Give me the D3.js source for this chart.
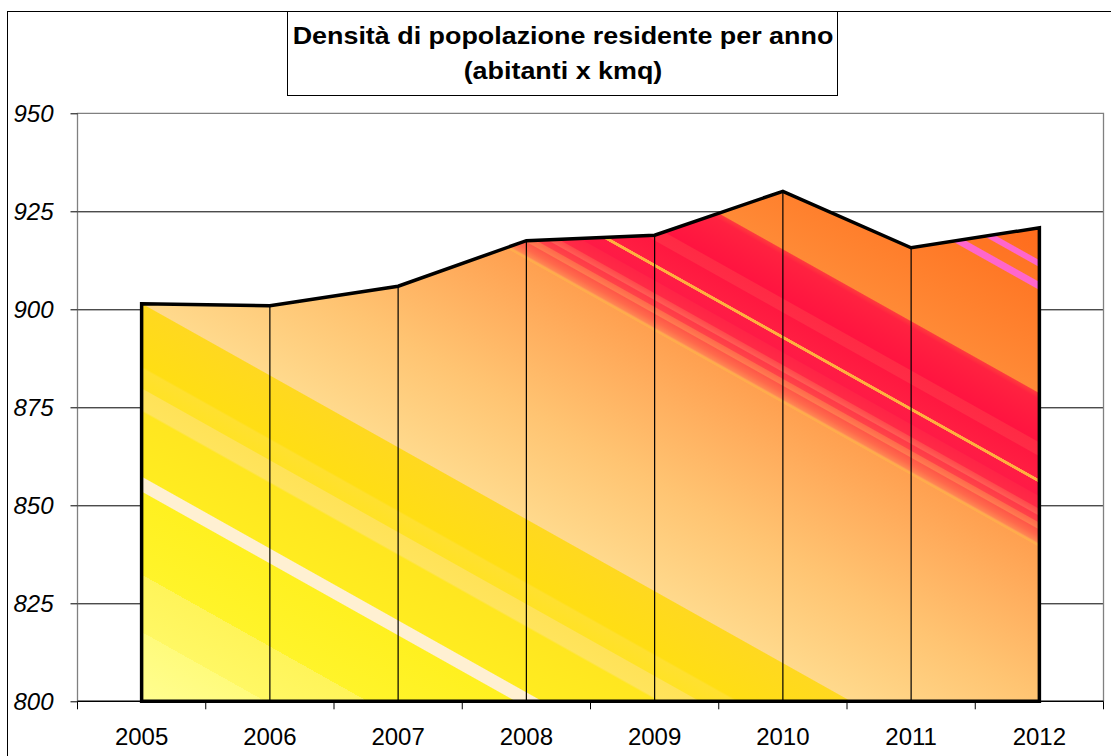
<!DOCTYPE html>
<html>
<head>
<meta charset="UTF-8">
<script src="https://cdn.jsdelivr.net/npm/d3@7/dist/d3.min.js"></script>
<style>
body { margin:0; background:#fff; }
text { font-family: Arial, "Liberation Sans", sans-serif; }
</style>
</head>
<body>
<script>

var years = ["2005","2006","2007","2008","2009","2010","2011","2012"];
var density = [901.4, 900.9, 905.9, 917.5, 918.9, 930.1, 915.7, 920.8];
var yTicks = [800, 825, 850, 875, 900, 925, 950];
var titleLines = ["Densità di popolazione residente per anno", "(abitanti x kmq)"];

var W = 1111, H = 756;
var plotL = 77.5, plotR = 1103.5, plotT = 113.3, plotB = 701.3;

var svg = d3.select("body").append("svg")
    .attr("width", W)
    .attr("height", H);

var x = d3.scaleBand().domain(years).range([plotL, plotR]).padding(0);
var y = d3.scaleLinear().domain([800, 950]).range([plotB, plotT]);
var cx = function(d) { return x(d) + x.bandwidth() / 2; };

// outer chart border
svg.append("rect")
    .attr("x", 7.5).attr("y", 11.5)
    .attr("width", W).attr("height", H)
    .attr("fill", "none").attr("stroke", "#000").attr("stroke-width", 1);

// gradient - diagonal bands, measured along normal n
var n = [0.489, -0.872];
var s0 = -560, s1 = 340;
var stops = [
  [-560, "#ffff96"], [-482, "#fffb7c"], [-482, "#fff864"], [-432, "#fff45a"],
  [-432, "#fff42a"], [-360, "#fff020"], [-359, "#fff0d2"], [-347, "#fff0d2"],
  [-346, "#ffec20"], [-290, "#ffe620"], [-288, "#ffe45c"], [-270, "#ffe258"],
  [-269, "#ffe226"], [-252, "#ffe030"], [-250, "#ffde14"], [-196, "#ffd820"],
  [-195, "#ffd98c"], [-100, "#ffc472"], [-20, "#ffae5e"], [31, "#ffa050"],
  [31.5, "#ffac4c"], [33, "#ffac4c"], [33.5, "#ffa454"], [35, "#ff8452"],
  [40, "#ff6a4c"], [46, "#ff5848"], [47, "#ff7a50"], [52, "#ff6a4c"],
  [53, "#ff4248"], [58, "#ff3a48"], [59, "#ff5c54"], [64, "#ff4a4c"],
  [65, "#ff2a46"], [75, "#ff2446"], [76, "#ff1a46"], [87, "#ff1c44"],
  [87.5, "#ffb040"], [90, "#ffb040"], [90.5, "#ff1e42"], [110, "#ff1840"],
  [111, "#ff2c46"], [122, "#ff2a44"], [123, "#ff1440"], [140, "#ff1a40"],
  [160, "#ff2240"], [165, "#ff3a3c"], [166, "#ff8a36"], [255, "#ff7826"],
  [256, "#ff66cc"], [262, "#ff66cc"], [263, "#ff7624"], [275, "#ff7424"],
  [276, "#ff66cc"], [281, "#ff66cc"], [282, "#ff7020"], [340, "#ff6818"]
];

var grad = svg.append("defs").append("linearGradient")
    .attr("id", "fill")
    .attr("gradientUnits", "userSpaceOnUse")
    .attr("x1", s0 * n[0]).attr("y1", s0 * n[1])
    .attr("x2", s1 * n[0]).attr("y2", s1 * n[1]);
grad.selectAll("stop").data(stops).enter().append("stop")
    .attr("offset", function(d) { return (d[0] - s0) / (s1 - s0); })
    .attr("stop-color", function(d) { return d[1]; });

// gridlines
svg.append("g")
    .attr("transform", "translate(" + plotL + ",0)")
    .call(d3.axisLeft(y).tickValues(yTicks.slice(1, -1)).tickSize(-(plotR - plotL)).tickFormat(""))
    .call(function(g) { g.select(".domain").remove(); })
    .selectAll("line").attr("stroke", "#000").attr("stroke-width", 1);

// area
var area = d3.area()
    .x(function(d, i) { return cx(years[i]); })
    .y0(y(800))
    .y1(function(d) { return y(d); });

svg.append("path")
    .datum(density)
    .attr("d", area)
    .attr("fill", "url(#fill)");

// drop lines
svg.append("g").selectAll("line")
    .data(density).enter().append("line")
    .attr("x1", function(d, i) { return cx(years[i]); })
    .attr("x2", function(d, i) { return cx(years[i]); })
    .attr("y1", function(d) { return y(d); })
    .attr("y2", y(800))
    .attr("stroke", "#000").attr("stroke-width", 1.2);

svg.append("path")
    .datum(density)
    .attr("d", area)
    .attr("fill", "none")
    .attr("stroke", "#000")
    .attr("stroke-width", 3.5)
    .attr("stroke-linejoin", "miter");

// plot border (top, right, left)
svg.append("path")
    .attr("d", "M" + plotL + "," + plotB + "V" + plotT + "H" + plotR + "V" + plotB)
    .attr("fill", "none").attr("stroke", "#808080").attr("stroke-width", 1.3);

// y axis
var yAxis = svg.append("g")
    .attr("transform", "translate(" + plotL + ",0)")
    .call(d3.axisLeft(y).tickValues(yTicks).tickSize(7).tickPadding(17));
yAxis.select(".domain").remove();
yAxis.selectAll("line").attr("stroke", "#000");
yAxis.selectAll("text")
    .attr("font-size", 24).attr("font-style", "italic")
    .attr("font-family", "Arial, 'Liberation Sans', sans-serif")
    .attr("fill", "#000").attr("dy", "0.36em");

// x axis
var xAxis = svg.append("g");
xAxis.append("line")
    .attr("x1", plotL).attr("x2", plotR)
    .attr("y1", plotB).attr("y2", plotB)
    .attr("stroke", "#000").attr("stroke-width", 1.5);
var bounds = years.map(function(d) { return x(d); }).concat([plotR]);
xAxis.selectAll(".tk").data(bounds).enter().append("line")
    .attr("x1", function(d) { return d; }).attr("x2", function(d) { return d; })
    .attr("y1", plotB).attr("y2", plotB + 8)
    .attr("stroke", "#000");
xAxis.selectAll("text").data(years).enter().append("text")
    .attr("x", function(d) { return cx(d); })
    .attr("y", 745)
    .attr("text-anchor", "middle")
    .attr("font-size", 24)
    .attr("fill", "#000")
    .text(function(d) { return d; });

// title box
svg.append("rect")
    .attr("x", 287.5).attr("y", 11.5)
    .attr("width", 550).attr("height", 84)
    .attr("fill", "#fff").attr("stroke", "#000").attr("stroke-width", 1);
svg.append("g").selectAll("text")
    .data(titleLines).enter().append("text")
    .attr("x", 563)
    .attr("y", function(d, i) { return 44 + i * 35; })
    .attr("text-anchor", "middle")
    .attr("font-size", 24)
    .attr("font-weight", "bold")
    .attr("fill", "#000")
    .text(function(d) { return d; })
    .each(function() {
        var w = this.getComputedTextLength();
        d3.select(this).attr("textLength", w * 1.12).attr("lengthAdjust", "spacingAndGlyphs");
    });

</script>
</body>
</html>
